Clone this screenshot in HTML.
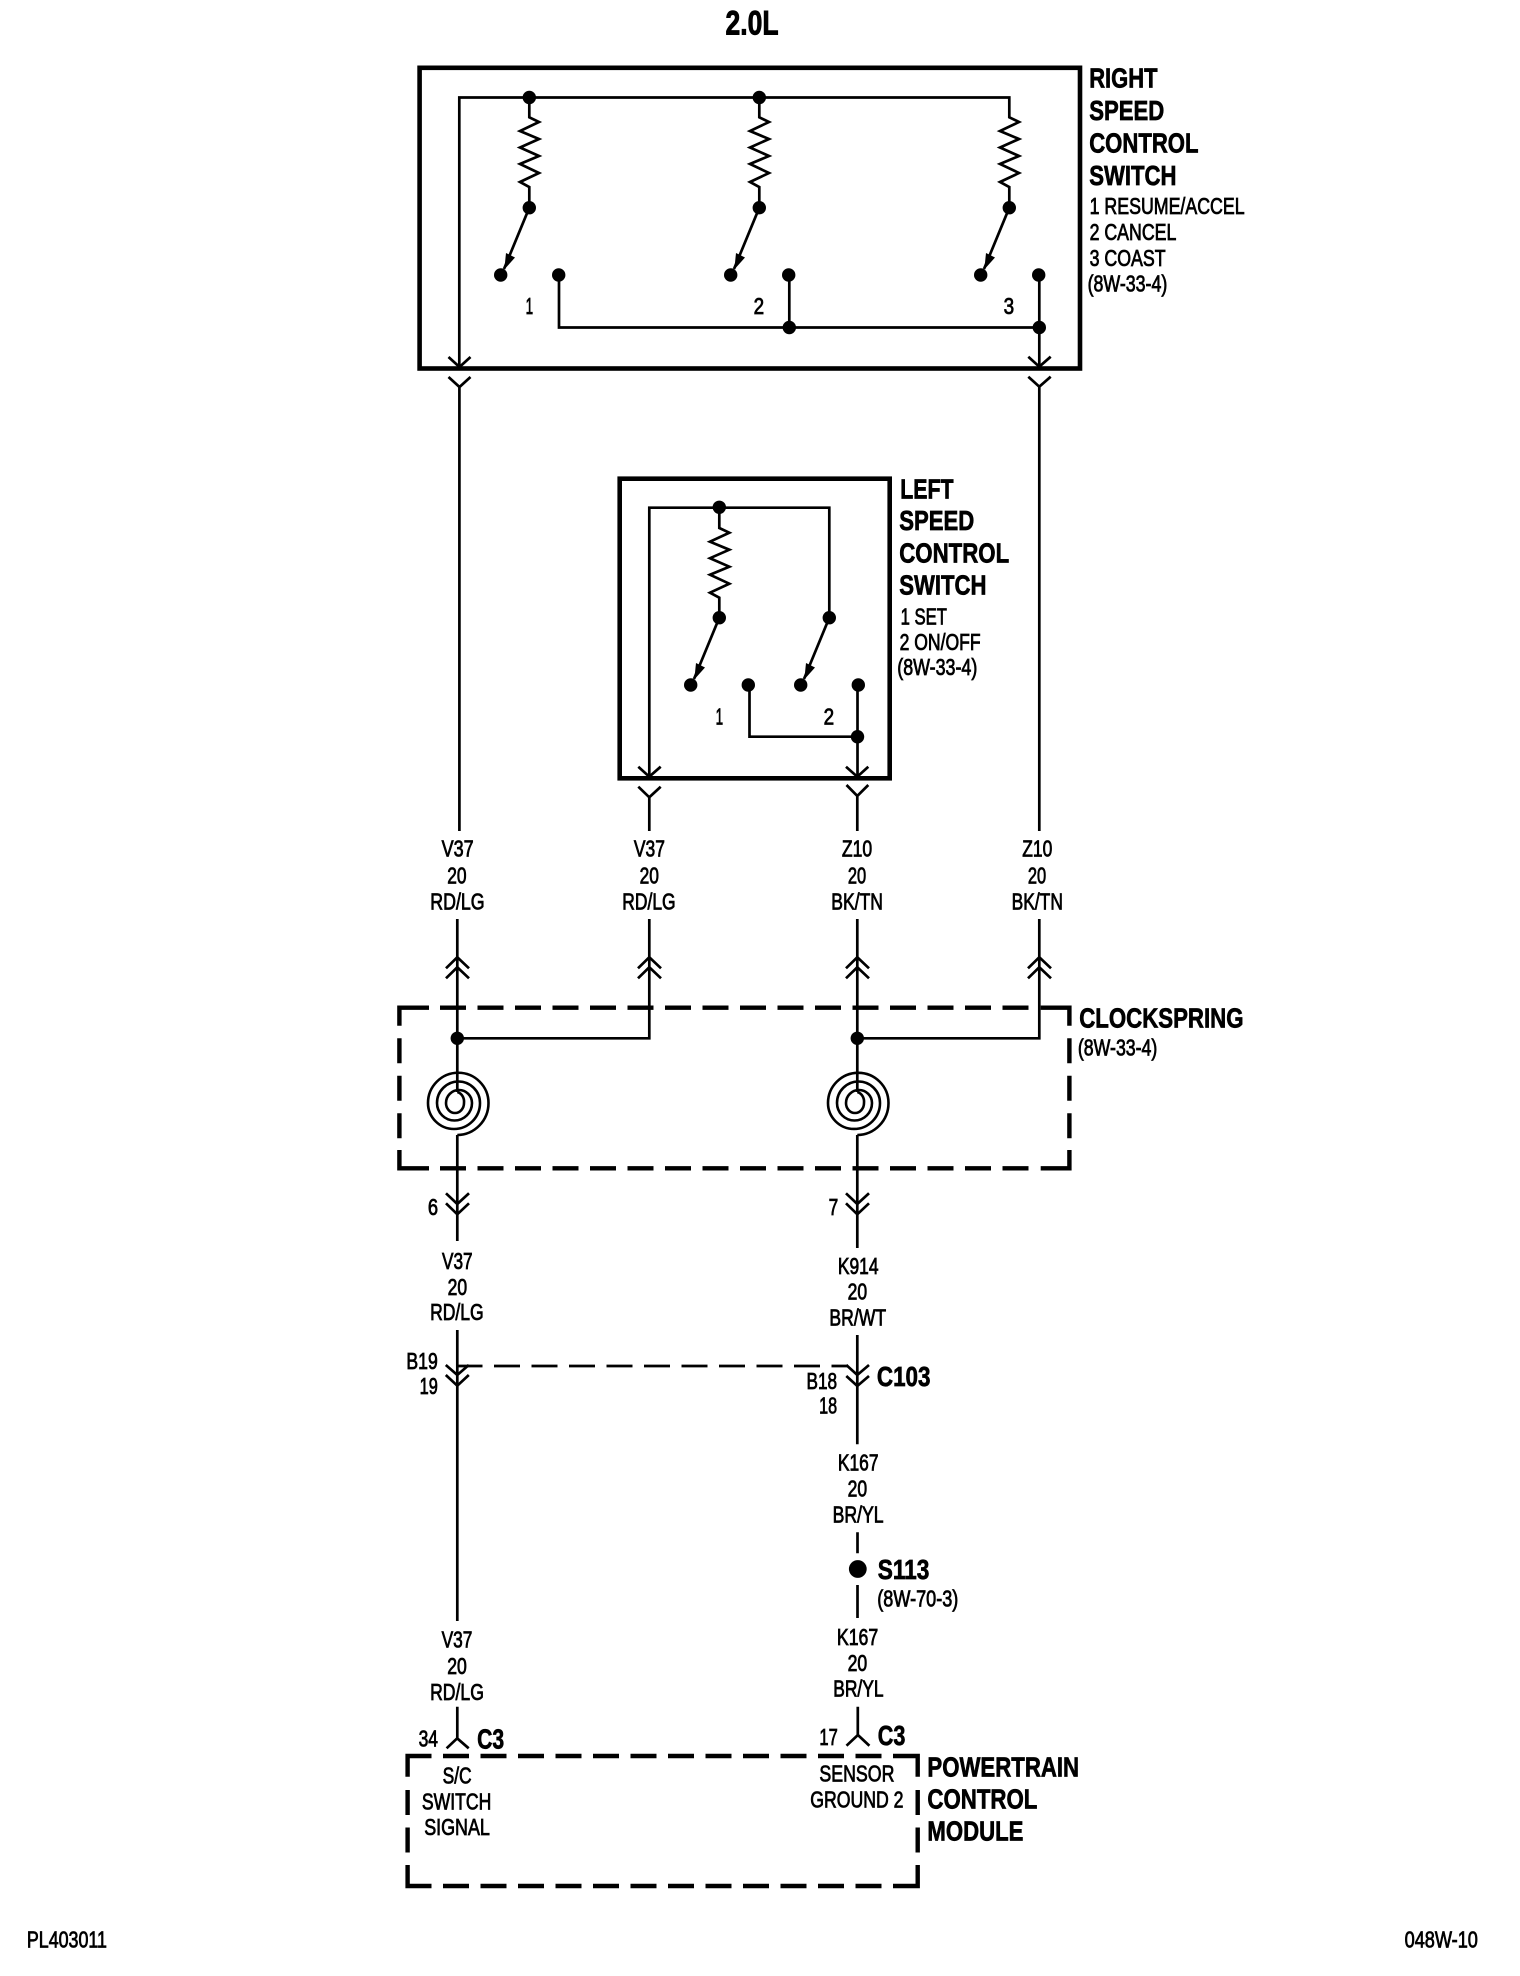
<!DOCTYPE html>
<html>
<head>
<meta charset="utf-8">
<title>2.0L Speed Control Wiring Diagram</title>
<style>
html,body{margin:0;padding:0;background:#fff}
svg{display:block}
text{font-family:"Liberation Sans",Arial,sans-serif;fill:#000}
.h{font-weight:bold;font-size:28px;stroke:#000;stroke-width:.7px;transform:translateX(-.8px)}
.n{font-size:23px;stroke:#000;stroke-width:.8px;transform:translateX(-.4px)}
.w{fill:none;stroke:#000;stroke-width:2.7;stroke-linejoin:miter}
.s{fill:none;stroke:#000;stroke-width:2.6}
.t{fill:none;stroke:#000;stroke-width:4.6;stroke-linejoin:miter}
.d{fill:none;stroke:#000;stroke-width:4.4;stroke-dasharray:26 11.5}
.dv{fill:none;stroke:#000;stroke-width:4.4;stroke-dasharray:25 12.5}
</style>
</head>
<body>
<svg width="1520" height="1976" viewBox="0 0 1520 1976" xmlns="http://www.w3.org/2000/svg">
<rect width="1520" height="1976" fill="#fff"/>

<text x="725.5" y="34.5" font-weight="bold" font-size="34" stroke="#000" stroke-width=".9" textLength="53" lengthAdjust="spacingAndGlyphs">2.0L</text>

<!-- Right switch -->
<rect class="t" x="419.6" y="67.8" width="660.4" height="300.7"/>
<path class="w" d="M459.3 367V97.5H1009.3V117.3L1019 122L1000 131L1019 139L1000 147.5L1019 156L1000 164L1019 173L1000 182L1009.3 187V207.7"/>
<path class="w" d="M529.3 97.5V117.3L539 122L520 131L539 139L520 147.5L539 156L520 164L539 173L520 182L529.3 187V207.7"/>
<path class="w" d="M759.3 97.5V117.3L769 122L750 131L769 139L750 147.5L769 156L750 164L769 173L750 182L759.3 187V207.7"/>
<path class="w" d="M529.3 207.7L504 269M759.3 207.7L734 269M1009.3 207.7L984 269"/>
<path d="M504.3 269.5L506 253L515 257.5Z"/>
<path d="M734.3 269.5L736 253L745 257.5Z"/>
<path d="M984.3 269.5L986 253L995 257.5Z"/>
<path class="w" d="M559 275V327.5H1039.3M789.3 275V327.5M1039.3 275V367"/>
<g>
<circle cx="529.3" cy="97.5" r="6.7"/><circle cx="759.3" cy="97.5" r="6.7"/>
<circle cx="529.3" cy="207.7" r="6.7"/><circle cx="759.3" cy="207.7" r="6.7"/><circle cx="1009.3" cy="207.7" r="6.7"/>
<circle cx="500.7" cy="275" r="6.7"/><circle cx="558.7" cy="275" r="6.7"/>
<circle cx="730.7" cy="275" r="6.7"/><circle cx="788.7" cy="275" r="6.7"/>
<circle cx="980.7" cy="275" r="6.7"/><circle cx="1038.7" cy="275" r="6.7"/>
<circle cx="789.3" cy="327.5" r="6.7"/><circle cx="1039.3" cy="327.5" r="6.7"/>
</g>
<path class="w" d="M448.5 357L459.5 367L470.5 357M448.5 377L459.5 387L470.5 377M459.4 387V831"/>
<path class="w" d="M1028.3 356.7L1039.3 366.7L1050.7 356.7M1028.3 376.7L1039.3 386.7L1050.7 376.7M1039.3 386.7V831"/>

<text class="n" x="526" y="314" textLength="7.5" lengthAdjust="spacingAndGlyphs">1</text>
<text class="n" x="754" y="314" textLength="10.5" lengthAdjust="spacingAndGlyphs">2</text>
<text class="n" x="1004" y="314" textLength="10.5" lengthAdjust="spacingAndGlyphs">3</text>

<text class="h" x="1090" y="87.7" textLength="68.3" lengthAdjust="spacingAndGlyphs">RIGHT</text>
<text class="h" x="1090" y="120" textLength="75" lengthAdjust="spacingAndGlyphs">SPEED</text>
<text class="h" x="1090" y="152.7" textLength="109.3" lengthAdjust="spacingAndGlyphs">CONTROL</text>
<text class="h" x="1090" y="185" textLength="87.3" lengthAdjust="spacingAndGlyphs">SWITCH</text>
<text class="n" x="1090" y="214" textLength="155" lengthAdjust="spacingAndGlyphs">1 RESUME/ACCEL</text>
<text class="n" x="1090" y="240" textLength="86.7" lengthAdjust="spacingAndGlyphs">2 CANCEL</text>
<text class="n" x="1090" y="266" textLength="76" lengthAdjust="spacingAndGlyphs">3 COAST</text>
<text class="n" x="1088" y="291.5" textLength="79.7" lengthAdjust="spacingAndGlyphs">(8W-33-4)</text>

<!-- Left switch -->
<rect class="t" x="619.7" y="478.7" width="270" height="299.6"/>
<path class="w" d="M649.3 776.7V507.7H829.3V617.7"/>
<path class="w" d="M719.3 507.7V528L729.3 532.7L710 541.7L729.3 549.7L710 558.2L729.3 566.7L710 574.7L729.3 583.7L710 592.7L719.3 597.7V617.7"/>
<path class="w" d="M719.3 617.7L694 679M829.3 617.7L804 679"/>
<path d="M694.3 679.5L696 663L705 667.5Z"/>
<path d="M804.3 679.5L806 663L815 667.5Z"/>
<path class="w" d="M749.5 685V736.7H857.5M857.5 685V776.7"/>
<g>
<circle cx="719.3" cy="507.3" r="6.7"/><circle cx="719.3" cy="617.7" r="6.7"/><circle cx="829.3" cy="617.7" r="6.7"/>
<circle cx="690.7" cy="685" r="6.7"/><circle cx="748.3" cy="685" r="6.7"/><circle cx="800.7" cy="685" r="6.7"/><circle cx="858.3" cy="685" r="6.7"/>
<circle cx="857.5" cy="736.7" r="6.7"/>
</g>
<path class="w" d="M638.3 766.7L649.3 776.7L660.7 766.7M638.3 786.7L649.3 797.3L660.7 786.7M649.3 797.3V831"/>
<path class="w" d="M846 766.7L857.3 776.7L868.3 766.7M846.5 785L857.3 796L868.3 785M857.3 796V831"/>

<text class="n" x="716" y="724.3" textLength="7.5" lengthAdjust="spacingAndGlyphs">1</text>
<text class="n" x="824" y="724.3" textLength="10.5" lengthAdjust="spacingAndGlyphs">2</text>

<text class="h" x="901" y="498.3" textLength="53.3" lengthAdjust="spacingAndGlyphs">LEFT</text>
<text class="h" x="900" y="530" textLength="75" lengthAdjust="spacingAndGlyphs">SPEED</text>
<text class="h" x="900" y="562.3" textLength="110" lengthAdjust="spacingAndGlyphs">CONTROL</text>
<text class="h" x="900" y="594.3" textLength="87.3" lengthAdjust="spacingAndGlyphs">SWITCH</text>
<text class="n" x="901" y="624.3" textLength="46.3" lengthAdjust="spacingAndGlyphs">1 SET</text>
<text class="n" x="900" y="650" textLength="81" lengthAdjust="spacingAndGlyphs">2 ON/OFF</text>
<text class="n" x="897.7" y="675" textLength="80" lengthAdjust="spacingAndGlyphs">(8W-33-4)</text>

<!-- Wire labels upper -->
<text class="n" x="442" y="856.7" textLength="32" lengthAdjust="spacingAndGlyphs">V37</text>
<text class="n" x="447.7" y="883.3" textLength="19.3" lengthAdjust="spacingAndGlyphs">20</text>
<text class="n" x="430.7" y="909.3" textLength="54.3" lengthAdjust="spacingAndGlyphs">RD/LG</text>
<text class="n" x="634.3" y="856.7" textLength="31" lengthAdjust="spacingAndGlyphs">V37</text>
<text class="n" x="640" y="883.3" textLength="19.3" lengthAdjust="spacingAndGlyphs">20</text>
<text class="n" x="622.7" y="909.3" textLength="53.3" lengthAdjust="spacingAndGlyphs">RD/LG</text>
<text class="n" x="842.3" y="856.7" textLength="30.3" lengthAdjust="spacingAndGlyphs">Z10</text>
<text class="n" x="848.3" y="883.3" textLength="18.3" lengthAdjust="spacingAndGlyphs">20</text>
<text class="n" x="831.7" y="909.3" textLength="51.7" lengthAdjust="spacingAndGlyphs">BK/TN</text>
<text class="n" x="1022.7" y="856.7" textLength="30" lengthAdjust="spacingAndGlyphs">Z10</text>
<text class="n" x="1028.3" y="883.3" textLength="18.3" lengthAdjust="spacingAndGlyphs">20</text>
<text class="n" x="1012" y="909.3" textLength="51.3" lengthAdjust="spacingAndGlyphs">BK/TN</text>

<!-- Wires into clockspring -->
<path class="w" d="M457.3 919V1092M649.3 919V1038.3H457.3"/>
<path class="w" d="M857.3 919V1092M1039.3 919V1038.3H857.3"/>
<path class="w" d="M446 968.3L457.3 957.3L469 968.3M446 978.3L457.3 967.3L469 978.3"/>
<path class="w" d="M638 968.3L649.3 957.3L661 968.3M638 978.3L649.3 967.3L661 978.3"/>
<path class="w" d="M846 968.3L857.3 957.3L869 968.3M846 978.3L857.3 967.3L869 978.3"/>
<path class="w" d="M1028 968.3L1039.3 957.3L1051 968.3M1028 978.3L1039.3 967.3L1051 978.3"/>
<circle cx="457.3" cy="1038.3" r="6.7"/><circle cx="857.3" cy="1038.3" r="6.7"/>

<!-- Clockspring dashed box -->
<path class="t" style="stroke-width:4.4" d="M399.4 1025.7V1007.7H429M399.4 1150V1168.3H429M1040.7 1007.7H1069.4V1025.7M1040.7 1168.3H1069.4V1150"/>
<path class="d" d="M440 1007.7H1030M440 1168.3H1030"/>
<path class="dv" d="M399.4 1038.3V1140M1069.4 1038.3V1140"/>

<!-- Spirals -->
<path class="s" d="M457.3 1092A9 10 0 0 1 464 1103A9 10 0 0 1 446 1103A13 13 0 0 1 472 1103A17.5 17.5 0 0 1 437 1103A21.5 21.5 0 0 1 480 1103A26 26 0 0 1 428 1103A30.25 30.25 0 0 1 488.5 1103A31.5 32 0 0 1 457.3 1135"/>
<path class="s" d="M857.3 1092A9 10 0 0 1 864 1103A9 10 0 0 1 846 1103A13 13 0 0 1 872 1103A17.5 17.5 0 0 1 837 1103A21.5 21.5 0 0 1 880 1103A26 26 0 0 1 828 1103A30.25 30.25 0 0 1 888.5 1103A31.5 32 0 0 1 857.3 1135"/>

<text class="h" x="1080" y="1027.7" textLength="164.3" lengthAdjust="spacingAndGlyphs">CLOCKSPRING</text>
<text class="n" x="1078.3" y="1055.5" textLength="79.4" lengthAdjust="spacingAndGlyphs">(8W-33-4)</text>

<!-- Below clockspring -->
<path class="w" d="M457.3 1135V1241M857.3 1135V1248"/>
<path class="w" d="M446 1193.3L457.3 1204L469 1193.3M446 1203.3L457.3 1214.3L469 1203.3"/>
<path class="w" d="M846 1193.3L857.3 1204L869 1193.3M846 1203.3L857.3 1214.3L869 1203.3"/>
<text class="n" x="428.3" y="1215" textLength="10.2" lengthAdjust="spacingAndGlyphs">6</text>
<text class="n" x="829" y="1215" textLength="9.6" lengthAdjust="spacingAndGlyphs">7</text>

<text class="n" x="442.4" y="1269" textLength="30.6" lengthAdjust="spacingAndGlyphs">V37</text>
<text class="n" x="448" y="1295" textLength="19.5" lengthAdjust="spacingAndGlyphs">20</text>
<text class="n" x="430.5" y="1320" textLength="53.6" lengthAdjust="spacingAndGlyphs">RD/LG</text>
<text class="n" x="838.3" y="1274" textLength="40.6" lengthAdjust="spacingAndGlyphs">K914</text>
<text class="n" x="848" y="1299.3" textLength="19.5" lengthAdjust="spacingAndGlyphs">20</text>
<text class="n" x="829.8" y="1325.7" textLength="56.7" lengthAdjust="spacingAndGlyphs">BR/WT</text>

<!-- C103 -->
<path class="w" d="M457.3 1330V1621M857.3 1335V1444.3"/>
<path class="w" d="M445.8 1365L457.3 1375L468.8 1365M445.8 1375L457.3 1385.7L468.8 1375"/>
<path class="w" d="M846.3 1365L857.3 1375L869 1365M846.3 1376L857.3 1386L869 1376"/>
<path class="w" style="stroke-dasharray:26 11.5" d="M456.5 1366H848"/>
<text class="n" x="406.8" y="1369" textLength="31.4" lengthAdjust="spacingAndGlyphs">B19</text>
<text class="n" x="420" y="1394" textLength="18.2" lengthAdjust="spacingAndGlyphs">19</text>
<text class="n" x="806.9" y="1389" textLength="30.6" lengthAdjust="spacingAndGlyphs">B18</text>
<text class="n" x="819.5" y="1413.3" textLength="18" lengthAdjust="spacingAndGlyphs">18</text>
<text class="h" x="877.7" y="1386" textLength="53.6" lengthAdjust="spacingAndGlyphs">C103</text>

<text class="n" x="838.3" y="1470.7" textLength="40.6" lengthAdjust="spacingAndGlyphs">K167</text>
<text class="n" x="848" y="1496.7" textLength="19.5" lengthAdjust="spacingAndGlyphs">20</text>
<text class="n" x="833" y="1522.7" textLength="51" lengthAdjust="spacingAndGlyphs">BR/YL</text>

<!-- S113 -->
<path class="w" d="M857.5 1532.3V1553.3M857.5 1585V1618"/>
<circle cx="857.8" cy="1569" r="8.9"/>
<text class="h" x="878.5" y="1579" textLength="51.7" lengthAdjust="spacingAndGlyphs">S113</text>
<text class="n" x="877.7" y="1606.5" textLength="81" lengthAdjust="spacingAndGlyphs">(8W-70-3)</text>

<!-- Lower labels -->
<text class="n" x="442" y="1647.7" textLength="30.8" lengthAdjust="spacingAndGlyphs">V37</text>
<text class="n" x="447.6" y="1674" textLength="19.6" lengthAdjust="spacingAndGlyphs">20</text>
<text class="n" x="430.5" y="1700" textLength="53.8" lengthAdjust="spacingAndGlyphs">RD/LG</text>
<text class="n" x="837.3" y="1645" textLength="41.3" lengthAdjust="spacingAndGlyphs">K167</text>
<text class="n" x="848" y="1671" textLength="19.6" lengthAdjust="spacingAndGlyphs">20</text>
<text class="n" x="833.6" y="1696.7" textLength="50.4" lengthAdjust="spacingAndGlyphs">BR/YL</text>

<path class="w" d="M457.3 1706.7V1738.3M446.6 1748.3L457.2 1738.3L468.7 1748.3"/>
<path class="w" d="M857.8 1706.7V1735M846.5 1745.7L857.9 1735L869.4 1745.7"/>
<text class="n" x="419" y="1746.7" textLength="19.4" lengthAdjust="spacingAndGlyphs">34</text>
<text class="n" x="819.8" y="1745" textLength="18.4" lengthAdjust="spacingAndGlyphs">17</text>
<text class="h" x="477.9" y="1748.3" textLength="27" lengthAdjust="spacingAndGlyphs">C3</text>
<text class="h" x="878.6" y="1745" textLength="27.6" lengthAdjust="spacingAndGlyphs">C3</text>

<!-- PCM dashed box -->
<path class="t" style="stroke-width:4.4" d="M407.6 1776.7V1756H431.5M407.6 1865V1886H431.5M893 1756H917.7V1776.7M893 1886H917.7V1865"/>
<path class="d" d="M443 1756H882M443 1886H882"/>
<path class="dv" d="M407.6 1790V1853M917.7 1790V1853"/>

<text class="n" x="443" y="1783.3" textLength="29" lengthAdjust="spacingAndGlyphs">S/C</text>
<text class="n" x="422.3" y="1809.3" textLength="69.4" lengthAdjust="spacingAndGlyphs">SWITCH</text>
<text class="n" x="424.6" y="1835" textLength="65.7" lengthAdjust="spacingAndGlyphs">SIGNAL</text>
<text class="n" x="819.8" y="1781.7" textLength="75" lengthAdjust="spacingAndGlyphs">SENSOR</text>
<text class="n" x="810.6" y="1807.3" textLength="93.3" lengthAdjust="spacingAndGlyphs">GROUND 2</text>
<text class="h" x="928.2" y="1776.7" textLength="151.7" lengthAdjust="spacingAndGlyphs">POWERTRAIN</text>
<text class="h" x="928.2" y="1808.3" textLength="110" lengthAdjust="spacingAndGlyphs">CONTROL</text>
<text class="h" x="928.2" y="1840.7" textLength="96" lengthAdjust="spacingAndGlyphs">MODULE</text>

<text class="n" x="27.3" y="1947.3" textLength="80" lengthAdjust="spacingAndGlyphs">PL403011</text>
<text class="n" x="1405" y="1947.3" textLength="73.3" lengthAdjust="spacingAndGlyphs">048W-10</text>
</svg>
</body>
</html>
